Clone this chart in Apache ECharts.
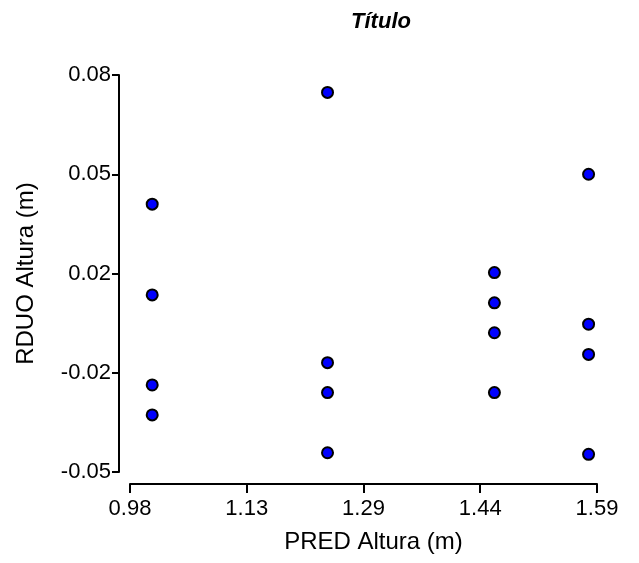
<!DOCTYPE html>
<html>
<head>
<meta charset="utf-8">
<script src="https://cdn.jsdelivr.net/npm/echarts@6/dist/echarts.min.js"></script>
<style>html,body{margin:0;padding:0;background:#fff;}#c{width:639px;height:563px;}</style>
</head>
<body>
<div id="c"></div>
<script>
var xValues = [1.009, 1.009, 1.009, 1.009, 1.238, 1.238, 1.238, 1.238, 1.456, 1.456, 1.456, 1.456, 1.579, 1.579, 1.579, 1.579];
var yValues = [0.0377, 0.0080, -0.0215, -0.0313, 0.0743, -0.0142, -0.0240, -0.0437, 0.0153, 0.0054, -0.0044, -0.0240, 0.0475, -0.0016, -0.0115, -0.0442];
var xTickValues = [0.98, 1.1325, 1.285, 1.4375, 1.59];
var xTickLabels = ["0.98", "1.13", "1.29", "1.44", "1.59"];
var yTickValues = [-0.05, -0.0175, 0.015, 0.0475, 0.08];
var yTickLabels = ["-0.05", "-0.02", "0.02", "0.05", "0.08"];

function labelFor(vals, labels) {
  return function (v) {
    var best = 0, d = Infinity;
    for (var i = 0; i < vals.length; i++) {
      var dd = Math.abs(vals[i] - v);
      if (dd < d) { d = dd; best = i; }
    }
    return labels[best];
  };
}

var data = xValues.map(function (x, i) { return [x, yValues[i]]; });
var font = 'Liberation Sans, Arial, sans-serif';
var chart = echarts.init(document.getElementById('c'), null, { renderer: 'canvas' });
chart.setOption({
  animation: false,
  backgroundColor: '#ffffff',
  title: {
    text: 'Título',
    left: 376, top: 6, textAlign: 'center',
    textStyle: { fontFamily: font, fontSize: 22, fontWeight: 'bold', fontStyle: 'italic', color: '#000' }
  },
  grid: { left: 130, right: 42, top: 75, bottom: 91, containLabel: false },
  xAxis: {
    type: 'value', min: 0.98, max: 1.59, offset: 12,
    name: 'PRED Altura (m)', nameLocation: 'middle', nameGap: 46,
    nameTextStyle: { fontFamily: font, fontSize: 24, color: '#000', padding: [0, 0, 0, 20] },
    splitLine: { show: false },
    axisLine: { show: true, onZero: false, lineStyle: { color: '#000', width: 2 } },
    axisTick: { show: true, length: 9, lineStyle: { color: '#000', width: 2 }, customValues: xTickValues },
    axisLabel: { customValues: xTickValues, formatter: labelFor(xTickValues, xTickLabels), fontFamily: font, fontSize: 22, color: '#000', margin: 14 }
  },
  yAxis: {
    type: 'value', min: -0.05, max: 0.08, offset: 11,
    name: 'RDUO Altura (m)', nameLocation: 'middle', nameGap: 81,
    nameTextStyle: { fontFamily: font, fontSize: 24, color: '#000' },
    splitLine: { show: false },
    axisLine: { show: true, onZero: false, lineStyle: { color: '#000', width: 2 } },
    axisTick: { show: true, length: 7, lineStyle: { color: '#000', width: 2 }, customValues: yTickValues },
    axisLabel: { customValues: yTickValues, formatter: labelFor(yTickValues, yTickLabels), fontFamily: font, fontSize: 22, color: '#000', margin: 8 }
  },
  series: [{
    type: 'scatter',
    data: data,
    symbol: 'circle',
    symbolSize: 11,
    itemStyle: { color: '#0000ff', borderColor: '#000', borderWidth: 2, opacity: 1 }
  }]
});
</script>
</body>
</html>
